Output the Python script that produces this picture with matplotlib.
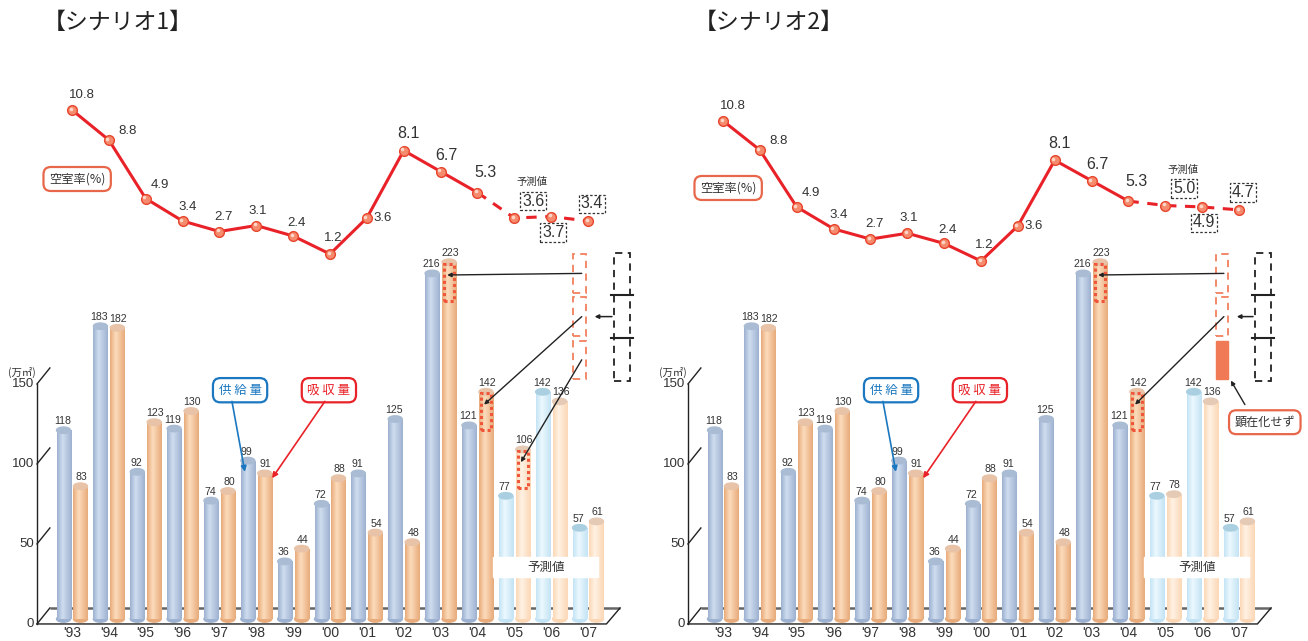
import numpy as np
import matplotlib
matplotlib.use('Agg')
import matplotlib.pyplot as plt
from matplotlib.patches import Ellipse, Rectangle
from matplotlib.colors import LinearSegmentedColormap

plt.rcParams['font.family'] = ['Noto Sans CJK JP', 'DejaVu Sans']
NUM = ['Liberation Sans', 'Noto Sans CJK JP']

# --- data -------------------------------------------------------------
years = ["'93", "'94", "'95", "'96", "'97", "'98", "'99", "'00",
         "'01", "'02", "'03", "'04", "'05", "'06", "'07"]
supply = [118, 183, 92, 119, 74, 99, 36, 72, 91, 125, 216, 121, 77, 142, 57]
absorption_s1 = [83, 182, 123, 130, 80, 91, 44, 88, 54, 48, 223, 142, 106, 136, 61]
absorption_s2 = [83, 182, 123, 130, 80, 91, 44, 88, 54, 48, 223, 142, 78, 136, 61]
vacancy_s1 = [10.8, 8.8, 4.9, 3.4, 2.7, 3.1, 2.4, 1.2, 3.6, 8.1, 6.7, 5.3, 3.6, 3.7, 3.4]
vacancy_s2 = [10.8, 8.8, 4.9, 3.4, 2.7, 3.1, 2.4, 1.2, 3.6, 8.1, 6.7, 5.3, 5.0, 4.9, 4.7]
n_actual = 12            # '93-'04 actual, '05-'07 forecast
shifted_s1 = [10, 11, 12]  # bars whose absorption is moved forward
shifted_s2 = [10, 11]
shift_size = 24

# --- layout helpers ---------------------------------------------------
W, H = 1308, 641
fig = plt.figure(figsize=(W / 100, H / 100), dpi=100)
STEP = 36.857
ZERO, SCALE = 619, 1.6

RED = '#e82228'
BLUE_TXT = '#1b78c0'
DARK = '#333333'


def add_ax(left, top, width, height):
    ax = fig.add_axes([left / W, 1 - (top + height) / H, width / W, height / H])
    ax.set_facecolor('none')
    ax.axis('off')
    return ax


def cylinder(ax, x, h, w, edge, light, top):
    cmap = LinearSegmentedColormap.from_list(
        'cyl', [(0, edge), (0.38, light), (1, edge)])
    bar = ax.bar(x, h, width=w, color='none', linewidth=0, zorder=3)[0]
    grad = np.linspace(0, 1, 64).reshape(1, -1)
    im = ax.imshow(grad, cmap=cmap, extent=(x - w / 2, x + w / 2, 0, h),
                   aspect='auto', zorder=3, interpolation='bilinear')
    im.set_clip_path(bar)
    ax.add_patch(Ellipse((x, 0), w, 4, color=edge, zorder=2.9))
    ax.add_patch(Ellipse((x, h), w, 4, color=top, zorder=3.2))


HIST_BLUE = ('#9db1d0', '#d0ddef', '#a9bcd4')
HIST_ORNG = ('#e8ab7b', '#fcdcbc', '#e8c3a8')
FC_BLUE = ('#c4e3f4', '#ecf8fe', '#a9cfe0')
FC_ORNG = ('#fbd7b6', '#fff2e4', '#e5cab6')

label_off = [(10, 15), (19, 9), (14, 14), (5, 14), (4, 15), (1, 15), (3, 13),
             (3, 16), (16, 0), (5, 17), (6, 16), (8, 20), (19, 17), (2, -16), (4, 17)]


def panel(x0, title, absorption, vacancy, shifted, line_base, line_scale,
          stack_x, black_x, realised_all):
    # title
    fig.text((x0 - 29) / W, 1 - 22 / H, title, fontsize=16.5, va='center', color='#222')

    # bar axes: x index -1..15, value -10..250
    ax = add_ax(x0 - STEP, ZERO - 250 * SCALE, 16 * STEP, 260 * SCALE)
    xs = np.arange(len(years))
    bw = 0.38
    for i in xs:
        fc = i >= n_actual
        cb = FC_BLUE if fc else HIST_BLUE
        co = FC_ORNG if fc else HIST_ORNG
        cylinder(ax, i - 0.23, supply[i], bw, *cb)
        cylinder(ax, i + 0.23, absorption[i], bw, *co)
        ax.annotate(str(supply[i]), (i - 0.23, supply[i]), xytext=(-1, 4),
                    textcoords='offset pixels', ha='center', va='bottom',
                    fontsize=7.6, family=NUM, color=DARK, zorder=6)
        ax.annotate(str(absorption[i]), (i + 0.23, absorption[i]), xytext=(1, 4),
                    textcoords='offset pixels', ha='center', va='bottom',
                    fontsize=7.6, family=NUM, color=DARK, zorder=6)
        ax.text(i, -9, years[i], ha='center', va='center', fontsize=10,
                family=NUM, color=DARK)

    # 3D floor and axis
    ax.plot([-0.6, 14.87], [6.9, 6.9], color='#666', lw=1.8, zorder=1,
            solid_capstyle='butt', clip_on=False)
    ax.plot([-0.95, 14.5, 14.87], [-3.1, -3.1, 6.9], color='#222', lw=1,
            zorder=1, clip_on=False)
    ax.plot([-0.95, -0.95], [-3.1, 146.9], color='#222', lw=1, clip_on=False)
    for t in [0, 50, 100, 150]:
        ax.plot([-0.95, -0.6], [t - 3.1, t + 6.9], color='#222', lw=1, clip_on=False)
        ax.annotate(str(t), (-0.95, t - 3.1), xytext=(-3, 0), textcoords='offset pixels',
                    ha='right', va='center', fontsize=9.5, family=NUM, color=DARK)
    ax.text(-1.36, 154, '(万㎡)', ha='center', va='center', fontsize=7.5, color=DARK)

    # forecast band
    ax.add_patch(Rectangle((11.42, 26.3), 2.85, 12.5, color='white', zorder=5))
    ax.text(12.85, 32.5, '予測値', ha='center', va='center', fontsize=9,
            color=DARK, zorder=6)

    # legend boxes
    ax.text(4.56, 143, '供 給 量', ha='center', va='center', fontsize=9, color=BLUE_TXT,
            zorder=7, bbox=dict(boxstyle='round,pad=0.45,rounding_size=0.6',
                                fc='white', ec=BLUE_TXT, lw=1.6))
    ax.text(6.97, 143, '吸 収 量', ha='center', va='center', fontsize=9, color=RED,
            zorder=7, bbox=dict(boxstyle='round,pad=0.45,rounding_size=0.6',
                                fc='white', ec=RED, lw=1.6))
    ax.annotate('', xy=(4.69, 92), xytext=(4.34, 136),
                arrowprops=dict(arrowstyle='-|>', color=BLUE_TXT, lw=1.2,
                                mutation_scale=8, shrinkA=0, shrinkB=0), zorder=7)
    ax.annotate('', xy=(5.43, 88), xytext=(6.86, 136),
                arrowprops=dict(arrowstyle='-|>', color=RED, lw=1.2,
                                mutation_scale=8, shrinkA=0, shrinkB=0), zorder=7)

    # moved absorption: dotted boxes on bars and stacked boxes on the right
    chunk_bottoms = [150 + k * (shift_size + 3) for k in range(3)][::-1]  # top first
    for k, cb in enumerate(chunk_bottoms):
        if k < len(shifted) or realised_all:
            ax.add_patch(Rectangle((stack_x - 0.175, cb), 0.35, shift_size, fill=False,
                                   ec='#f2805e', lw=1.3, ls=(0, (4, 3)), zorder=4,
                                   clip_on=False))
        else:
            ax.add_patch(Rectangle((stack_x - 0.175, cb), 0.35, shift_size,
                                   color='#f07a55', zorder=4, clip_on=False))
    for k, i in enumerate(shifted):
        v = absorption[i]
        ax.add_patch(Rectangle((i + 0.23 - 0.13, v - shift_size), 0.26, shift_size - 1,
                               fill=False, ec='#f0553a', lw=2.2, ls=(0, (1, 1)),
                               zorder=4))
        mid = chunk_bottoms[k] + shift_size / 2
        ax.annotate('', xy=(i + 0.18, v - 8), xytext=(stack_x + 0.05, mid),
                    arrowprops=dict(arrowstyle='-|>', color='#222', lw=1,
                                    mutation_scale=6, shrinkA=0, shrinkB=0), zorder=6)
    ax.add_patch(Rectangle((black_x - 0.21, 149), 0.42, 80, fill=False, ec='#222',
                           lw=1.3, ls=(0, (4, 3)), zorder=4, clip_on=False))
    for t in [175.5, 202.5]:
        ax.plot([black_x - 0.29, black_x + 0.29], [t, t], color='#222', lw=1.5,
                clip_on=False, zorder=4)
    ax.annotate('', xy=(stack_x + 0.4, 189), xytext=(black_x - 0.27, 189),
                arrowprops=dict(arrowstyle='-|>', color='#222', lw=1.1,
                                mutation_scale=6, shrinkA=0, shrinkB=0))
    if not realised_all:
        ax.text(14.7, 123, '顕在化せず', ha='center', va='center', fontsize=8.7,
                color=DARK, zorder=7,
                bbox=dict(boxstyle='round,pad=0.45,rounding_size=0.6',
                          fc='white', ec='#e8674a', lw=1.6))
        ax.annotate('', xy=(stack_x + 0.24, 149), xytext=(14.16, 134),
                    arrowprops=dict(arrowstyle='-|>', color='#222', lw=1,
                                    mutation_scale=6, shrinkA=0, shrinkB=0))

    ax.set_xlim(-1, 15)
    ax.set_ylim(-10, 250)

    # vacancy rate line
    lx = add_ax(x0 - STEP, line_base - 12 * line_scale, 16 * STEP, 12 * line_scale)
    lx.plot(xs[:n_actual], vacancy[:n_actual], color=RED, lw=2.2, zorder=2)
    lx.plot(xs[n_actual - 1:], vacancy[n_actual - 1:], color=RED, lw=2.2,
            ls=(0, (3.4, 2.8)), zorder=2)
    lx.plot(xs, vacancy, 'o', ms=7, mfc='#f58a6c', mec='#e8452d', mew=1, zorder=3)
    lx.plot(xs - 0.04, np.array(vacancy) + 0.08, 'o', ms=2.6, color='#fdd6c8',
            mew=0, zorder=4)
    for i, v in enumerate(vacancy):
        dx, dy = label_off[i]
        kw = dict(textcoords='offset pixels', ha='center', va='center',
                  family=NUM, color=DARK)
        if i >= n_actual:
            lx.annotate(f'{v:.1f}', (i, v), xytext=(dx, dy), fontsize=11.5,
                        bbox=dict(boxstyle='square,pad=0.12', fc='white', ec='#333',
                                  lw=0.9, ls=(0, (2, 1.5))), **kw)
        elif 9 <= i < n_actual:
            lx.annotate(f'{v:.1f}', (i, v), xytext=(dx, dy), fontsize=11.5, **kw)
        else:
            lx.annotate(f'{v:.1f}', (i, v), xytext=(dx, dy), fontsize=9.5, **kw)
    lx.annotate('予測値', (n_actual, vacancy[n_actual]), xytext=(18, 36),
                textcoords='offset pixels', ha='center', va='center', fontsize=7.5,
                color=DARK)
    lx.text(0.14, 6.2, '空室率(%)', ha='center', va='center', fontsize=8.8, color=DARK,
            bbox=dict(boxstyle='round,pad=0.45,rounding_size=0.6', fc='white',
                      ec='#e8674a', lw=1.6))
    lx.set_xlim(-1, 15)
    lx.set_ylim(0, 12)


panel(72, '【シナリオ1】', absorption_s1, vacancy_s1, shifted_s1, 272, 15.0,
      13.78, 14.92, True)
panel(723, '【シナリオ2】', absorption_s2, vacancy_s2, shifted_s2, 278.5, 14.6,
      13.54, 14.65, False)

fig.savefig('out.png', dpi=100)
